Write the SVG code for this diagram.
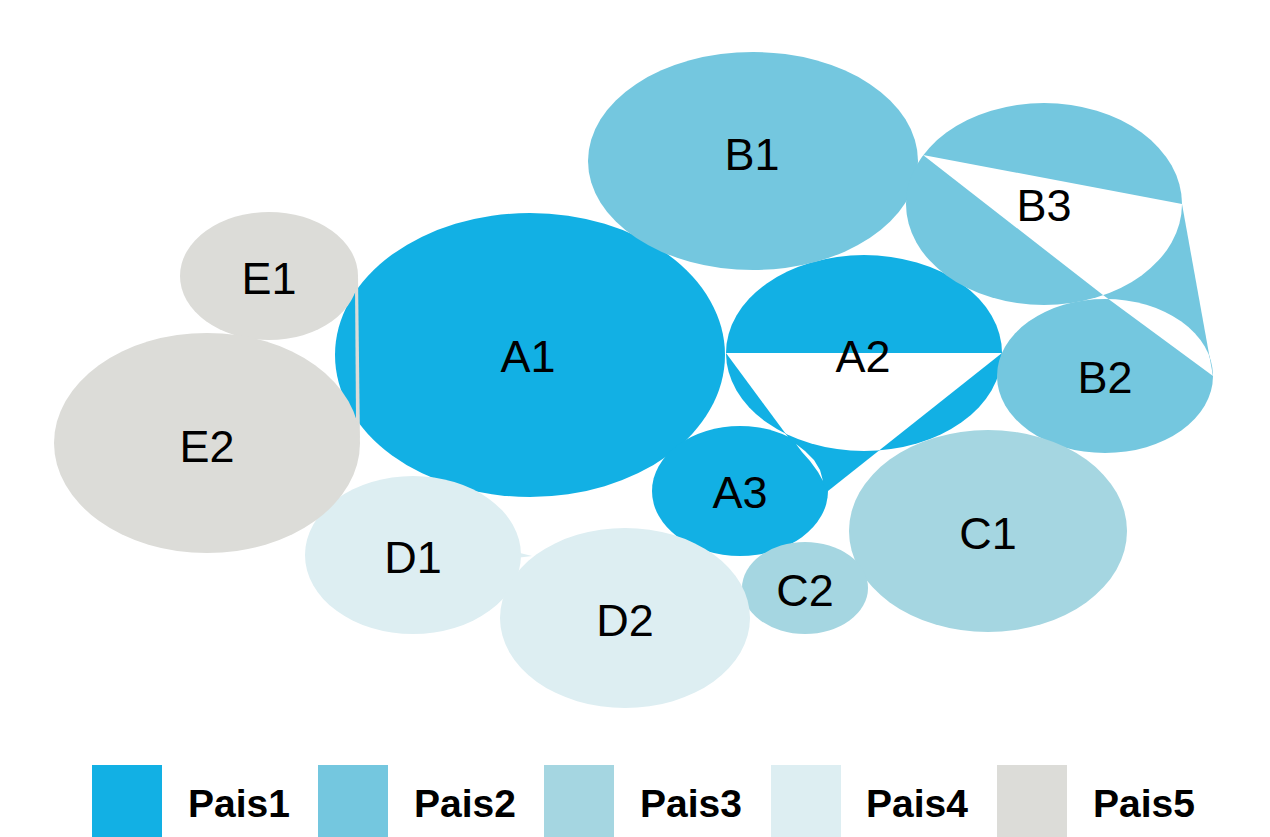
<svg xmlns="http://www.w3.org/2000/svg" width="1270" height="837" viewBox="0 0 1270 837">
<style>
.p1{fill:#12B0E4}.p2{fill:#74C7DF}.p3{fill:#A5D6E1}.p4{fill:#DDEEF2}.p5{fill:#DCDCD8}.w{fill:#FFFFFF}
.lbl{font-family:"Liberation Sans",Arial,sans-serif;font-size:45px;fill:#000;text-anchor:middle}
.leg{font-family:"Liberation Sans",Arial,sans-serif;font-size:39px;font-weight:bold;fill:#000}
</style>
<defs>
<clipPath id="cA2"><ellipse cx="864" cy="353" rx="138" ry="98"/></clipPath>
<clipPath id="cB3"><ellipse cx="1044" cy="204" rx="138" ry="101"/></clipPath>
<clipPath id="cB2"><ellipse cx="1105" cy="376" rx="108" ry="77"/></clipPath>
</defs>
<rect width="1270" height="837" fill="#FFFFFF"/>
<g id="pais1">
<g id="A1"><ellipse class="p1" cx="530" cy="355" rx="195" ry="142"/><text class="lbl" x="528" y="372">A1</text></g>
<g id="A2"><ellipse class="p1" cx="864" cy="353" rx="138" ry="98"/></g>
<g id="A3"><ellipse class="p1" cx="740" cy="491" rx="88" ry="65"/></g>
<polygon class="p1" points="726,353 1002,353 828,491"/>
<polygon class="w" clip-path="url(#cA2)" points="726,353 1002,353 828,491"/>
<polygon class="w" points="796,444 805,451 814,460 820,470 823,481 818,472 810,461 802,452"/>
<text class="lbl" x="863" y="372">A2</text>
<text class="lbl" x="740" y="508">A3</text>
</g>
<g id="pais2">
<g id="B1"><ellipse class="p2" cx="753" cy="161" rx="165" ry="109"/><text class="lbl" x="752" y="170">B1</text></g>
<g id="B3"><ellipse class="p2" cx="1044" cy="204" rx="138" ry="101"/></g>
<g id="B2"><ellipse class="p2" cx="1105" cy="376" rx="108" ry="77"/></g>
<polygon class="p2" points="923,155 1182,204 1213,376 1103,295"/>
<polygon class="w" clip-path="url(#cB3)" points="923,155 1182,204 1213,376 1103,295"/>
<polygon class="w" clip-path="url(#cB2)" points="923,155 1182,204 1213,376 1103,295"/>
<text class="lbl" x="1044" y="221">B3</text>
<text class="lbl" x="1105" y="393">B2</text>
</g>
<g id="pais3">
<g id="C1"><ellipse class="p3" cx="988" cy="531" rx="139" ry="101"/><text class="lbl" x="988" y="549">C1</text></g>
<g id="C2"><ellipse class="p3" cx="805" cy="588" rx="63" ry="46"/><text class="lbl" x="805" y="606">C2</text></g>
</g>
<g id="pais4">
<g id="D1"><ellipse class="p4" cx="413" cy="555" rx="108" ry="79"/><text class="lbl" x="413" y="573">D1</text></g>
<g id="D2"><ellipse class="p4" cx="625" cy="618" rx="125" ry="90"/><text class="lbl" x="625" y="636">D2</text></g>
<polygon class="p4" points="516,552 532,556 516,558"/>
</g>
<g id="pais5">
<g id="E1"><ellipse class="p5" cx="269" cy="276" rx="89" ry="64"/><text class="lbl" x="269" y="294">E1</text></g>
<g id="E2"><ellipse class="p5" cx="207" cy="443" rx="153" ry="110"/><text class="lbl" x="207" y="462">E2</text></g>
<polygon class="p5" points="355,284 358,276 360,443 356,420"/>
</g>
<g id="connectors"></g>
<g id="legend">
<rect class="p1" x="92" y="765" width="70" height="72"/><text class="leg" x="188" y="817">Pais1</text>
<rect class="p2" x="318" y="765" width="70" height="72"/><text class="leg" x="414" y="817">Pais2</text>
<rect class="p3" x="544" y="765" width="70" height="72"/><text class="leg" x="640" y="817">Pais3</text>
<rect class="p4" x="771" y="765" width="70" height="72"/><text class="leg" x="866" y="817">Pais4</text>
<rect class="p5" x="997" y="765" width="70" height="72"/><text class="leg" x="1093" y="817">Pais5</text>
</g>
</svg>
